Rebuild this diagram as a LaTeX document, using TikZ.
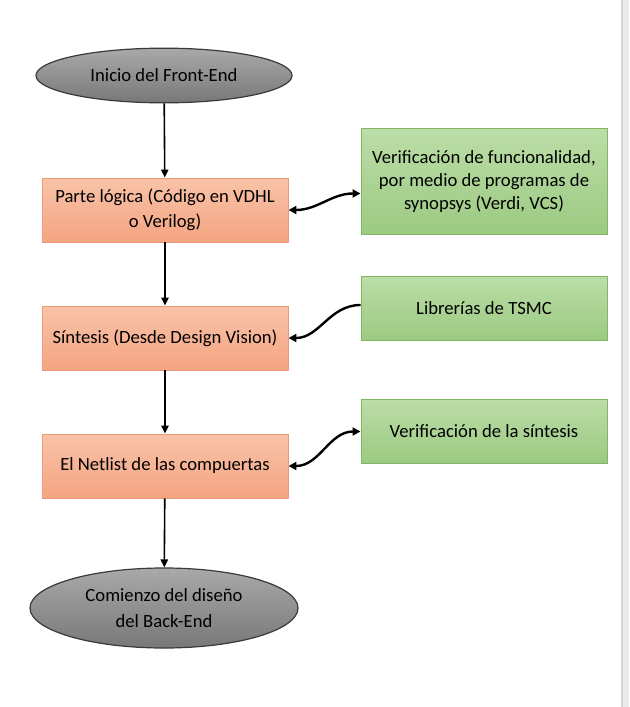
\documentclass[tikz,border=0pt]{standalone}
\usepackage{fontspec}
\setmainfont{Carlito}
\usetikzlibrary{arrows.meta,shapes.geometric,calc}
\definecolor{EndTop}{HTML}{A9A9A9}
\definecolor{EndBottom}{HTML}{787878}
\definecolor{EndLine}{HTML}{3A3A3A}
\definecolor{StageTop}{HTML}{F9C3A8}
\definecolor{StageBottom}{HTML}{F4A482}
\definecolor{StageLine}{HTML}{EE9A78}
\definecolor{CheckTop}{HTML}{BCDDA7}
\definecolor{CheckBottom}{HTML}{9BCA82}
\definecolor{CheckLine}{HTML}{82B564}
\definecolor{PageEdge}{HTML}{D4D4D4}
\definecolor{PageShade}{HTML}{EBEBEB}

\tikzset{
  endpoint/.style={ellipse, draw=EndLine, line width=0.9pt, top color=EndTop,
    bottom color=EndBottom, inner sep=0pt, align=center,
    font=\fontsize{14}{20}\selectfont},
  stagebox/.style={rectangle, draw=StageLine, line width=0.7pt, top color=StageTop,
    bottom color=StageBottom, minimum width=184.5pt, minimum height=48pt,
    inner sep=0pt, align=center, font=\fontsize{14}{18.5}\selectfont},
  checkbox/.style={rectangle, draw=CheckLine, line width=0.7pt, top color=CheckTop,
    bottom color=CheckBottom, minimum width=184.5pt, minimum height=48pt,
    inner sep=0pt, align=center, font=\fontsize{14}{17.5}\selectfont},
  flow/.style={-{Triangle[length=6pt,width=5.5pt]}, line width=1.2pt},
  link/.style={{Triangle[length=6pt,width=6pt]}-{Triangle[length=6pt,width=6pt]}, line width=1.8pt},
}

\begin{document}
\begin{tikzpicture}[x=0.75pt,y=-0.75pt]
  \useasboundingbox (0,0) rectangle (629,707);
  \fill[white] (0,0) rectangle (629,707);
  \fill[PageShade] (622,0) rectangle (629,707);
  \draw[PageEdge, line width=0.8pt] (622,0) -- (622,707);

  % main flow
  \node[endpoint, minimum width=192pt, minimum height=41pt] (start) at (164,75.5) {Inicio del Front-End};
  \node[stagebox] (logic) at (165,210) {Parte lógica (Código en VDHL\\o Verilog)};
  \node[stagebox] (synth) at (165,338) {Síntesis (Desde Design Vision)};
  \node[stagebox] (netlist) at (165,466) {El Netlist de las compuertas};
  \node[endpoint, minimum width=201pt, minimum height=60pt] (backend) at (164,608) {Comienzo del diseño\\del Back-End};

  % side checks
  \node[checkbox, minimum height=80pt] (funcver) at (484,181.5) {Verificación de funcionalidad,\\por medio de programas de\\synopsys (Verdi, VCS)};
  \node[checkbox] (tsmclib) at (484,308) {Librerías de TSMC};
  \node[checkbox] (synthver) at (484,431.5) {Verificación de la síntesis};

  \draw[flow] (start) -- (logic);
  \draw[flow] (logic) -- (synth);
  \draw[flow] (synth) -- (netlist);
  \draw[flow] (netlist) -- (backend);

  \coordinate (funcin) at ($(funcver.west)+(0,12)$);
  \coordinate (tsmcout) at ($(tsmclib.west)+(0,-3)$);
  \draw[link] (logic.east) to[out=0,in=180] (funcin);
  \draw[-{Triangle[length=6pt,width=6pt]}, line width=1.8pt] (tsmcout) to[out=180,in=0] (synth.east);
  \draw[link] (netlist.east) to[out=0,in=180] (synthver.west);
\end{tikzpicture}
\end{document}
